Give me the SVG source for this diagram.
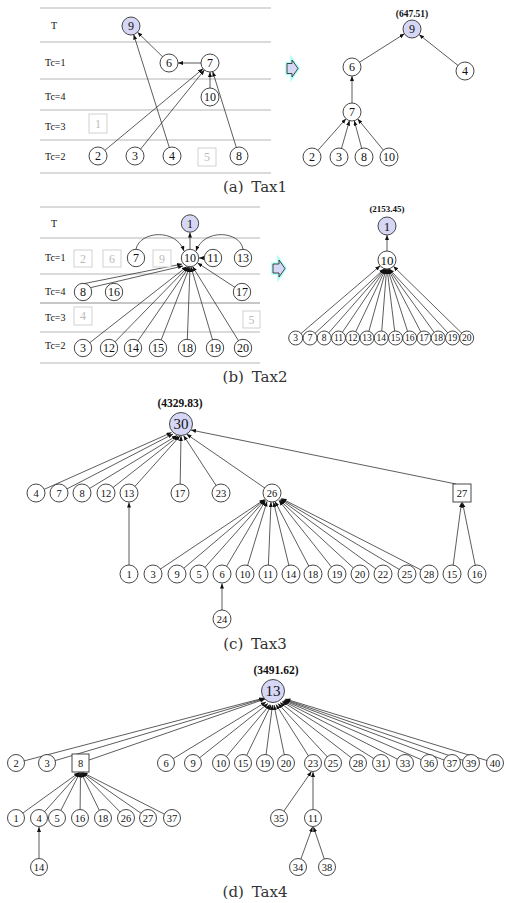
<svg xmlns="http://www.w3.org/2000/svg" width="506" height="903" viewBox="0 0 506 903">
<defs>
<marker id="ah" markerWidth="6" markerHeight="5" refX="5" refY="2" orient="auto" markerUnits="userSpaceOnUse"><path d="M0,0 L5,2 L0,4 z" fill="#111"/></marker>
</defs>
<style>
text{font-family:"Liberation Serif","Times New Roman",serif;fill:#111}
.n circle{fill:#fff;stroke:#333;stroke-width:0.9}
.n rect{fill:#fff;stroke:#333;stroke-width:0.9}
.r circle{fill:#d6d6f5}
.n text,.g text{text-anchor:middle;dominant-baseline:central}
.g rect{fill:#fff;stroke:#ccc;stroke-width:0.9}
.g text{fill:#bbb}
.f12 text{font-size:12px}
.f10 text{font-size:10.5px}
.f9 text{font-size:9.5px}
.big text{font-size:15px}
.mid text{font-size:13px}
.lane{stroke:#b5b5b5;stroke-width:1}
.lbl{font-size:10px}
.val{font-size:9.5px;font-weight:bold;text-anchor:middle}
.cap{font-family:"DejaVu Serif",serif;font-size:15px;fill:#333;text-anchor:middle;word-spacing:3px}
.blk{fill:#d6d6f5;stroke:#333;stroke-width:0.9}
.glow{fill:none;stroke:#6fe;stroke-width:3.5;opacity:0.55}
#edges line,#edges path{stroke:#333;stroke-width:0.8;fill:none;marker-end:url(#ah)}
#edges .gr{stroke:#888;stroke-width:1.4}
</style>

<!-- lanes -->
<g id="lanes">
<line class="lane" x1="40" y1="8" x2="271" y2="8"/>
<line class="lane" x1="40" y1="42" x2="271" y2="42"/>
<line class="lane" x1="40" y1="79" x2="271" y2="79"/>
<line class="lane" x1="40" y1="110" x2="271" y2="110"/>
<line class="lane" x1="40" y1="140" x2="271" y2="140"/>
<line class="lane" x1="40" y1="173" x2="271" y2="173"/>
<line class="lane" x1="40" y1="207" x2="260" y2="207"/>
<line class="lane" x1="40" y1="238" x2="260" y2="238"/>
<line class="lane" x1="40" y1="274" x2="260" y2="274"/>
<line class="lane" x1="40" y1="303" x2="260" y2="303" style="stroke-width:1.5"/>
<line class="lane" x1="40" y1="332" x2="260" y2="332"/>
<line class="lane" x1="40" y1="363" x2="260" y2="363"/>
<text class="lbl" x="51" y="29">T</text>
<text class="lbl" x="45" y="66">Tc=1</text>
<text class="lbl" x="45" y="100">Tc=4</text>
<text class="lbl" x="45" y="130">Tc=3</text>
<text class="lbl" x="45" y="160">Tc=2</text>
<text class="lbl" x="51" y="227">T</text>
<text class="lbl" x="45" y="261">Tc=1</text>
<text class="lbl" x="45" y="295">Tc=4</text>
<text class="lbl" x="45" y="321">Tc=3</text>
<text class="lbl" x="45" y="349">Tc=2</text>
</g>

<g id="arrows">
<path class="glow" d="M287,63.5 L292,63.5 L292,60 L298,68.5 L292,77 L292,73.5 L287,73.5 Z"/>
<path class="blk" d="M287,63.5 L292,63.5 L292,60 L298,68.5 L292,77 L292,73.5 L287,73.5 Z"/>
<path class="glow" d="M273,264 L279,264 L279,260 L285,268.5 L279,277 L279,273 L273,273 Z"/>
<path class="blk" d="M273,264 L279,264 L279,260 L285,268.5 L279,277 L279,273 L273,273 Z"/>
</g>

<g id="values">
<text class="val" x="412" y="17">(647.51)</text>
<text class="val" x="387" y="212" style="font-size:9px">(2153.45)</text>
<text class="val" x="180" y="407" style="font-size:11.5px">(4329.83)</text>
<text class="val" x="276" y="674" style="font-size:11.5px">(3491.62)</text>
</g>

<g id="captions">
<text class="cap" x="255" y="192">(a) Tax1</text>
<text class="cap" x="255" y="382">(b) Tax2</text>
<text class="cap" x="255" y="649">(c) Tax3</text>
<text class="cap" x="255" y="897">(d) Tax4</text>
</g>

<g id="edges">
<!-- Tax1 left -->
<line x1="169" y1="63" x2="137.5" y2="32.3"/>
<line x1="172" y1="156" x2="133.7" y2="34.6"/>
<line class="gr" x1="201" y1="63" x2="178" y2="63"/>
<line x1="98" y1="156" x2="203.1" y2="68.7"/>
<line x1="135" y1="156" x2="204.4" y2="70"/>
<line x1="210" y1="88" x2="210" y2="72"/>
<line x1="239" y1="156" x2="212.7" y2="71.6"/>
<!-- Tax1 right -->
<line x1="352" y1="67" x2="404.4" y2="33.8"/>
<line x1="465" y1="71" x2="419.1" y2="34.6"/>
<line x1="352" y1="103" x2="352" y2="76"/>
<line x1="312" y1="157" x2="346" y2="118.7"/>
<line x1="339" y1="157" x2="349.5" y2="120.6"/>
<line x1="364" y1="157" x2="354.3" y2="120.7"/>
<line x1="389" y1="157" x2="357.7" y2="118.9"/>
<!-- Tax2 left -->
<line x1="190" y1="249" x2="190" y2="232.5"/>
<line x1="204" y1="258" x2="199" y2="258"/>
<path d="M136,249 C140,231 176,228 184,251"/>
<path d="M243,249 C240,231 204,228 196,251"/>
<line x1="82" y1="284" x2="182" y2="264"/>
<line x1="89" y1="288" x2="183" y2="266"/>
<line x1="242" y1="292" x2="197.5" y2="262.9"/>
<line x1="83" y1="348" x2="187" y2="266.5"/>
<line x1="109" y1="348" x2="188" y2="267"/>
<line x1="133" y1="348" x2="189" y2="267"/>
<line x1="158" y1="348" x2="189.5" y2="267.2"/>
<line x1="187" y1="348" x2="190" y2="267.3"/>
<line x1="215" y1="348" x2="191" y2="267"/>
<line x1="243" y1="348" x2="192.5" y2="266.5"/>
<!-- Tax2 right -->
<line x1="387" y1="251" x2="387" y2="235"/>
<line x1="295.7" y1="338" x2="380.2" y2="265.8"/>
<line x1="310" y1="338" x2="384.2" y2="268.8"/>
<line x1="324.2" y1="338" x2="384.6" y2="269"/>
<line x1="338.5" y1="338" x2="385.1" y2="269"/>
<line x1="352.7" y1="338" x2="385.6" y2="269"/>
<line x1="367" y1="338" x2="386.1" y2="269"/>
<line x1="381.2" y1="338" x2="386.6" y2="269"/>
<line x1="395.5" y1="338" x2="387.1" y2="269"/>
<line x1="409.7" y1="338" x2="387.6" y2="269"/>
<line x1="424" y1="338" x2="388.1" y2="269"/>
<line x1="438.2" y1="338" x2="388.6" y2="269"/>
<line x1="452.5" y1="338" x2="389.1" y2="268.8"/>
<line x1="466.7" y1="338" x2="393.4" y2="266.3"/>
<!-- Tax3 -->
<line x1="36" y1="493" x2="171.5" y2="432.5"/>
<line x1="59" y1="493" x2="173" y2="434"/>
<line x1="82" y1="493" x2="177" y2="435.5"/>
<line x1="106" y1="493" x2="178.5" y2="436"/>
<line x1="129" y1="493" x2="180" y2="436"/>
<line x1="180" y1="493" x2="181" y2="436"/>
<line x1="221" y1="493" x2="183.5" y2="435.5"/>
<line x1="272" y1="493" x2="186.5" y2="434.1"/>
<line x1="456" y1="484" x2="191" y2="430"/>
<line x1="129" y1="565" x2="129" y2="502.5"/>
<line x1="222" y1="610" x2="222" y2="583.5"/>
<line x1="153" y1="574" x2="264.5" y2="499.5"/>
<line x1="177" y1="574" x2="264.5" y2="499.8"/>
<line x1="199" y1="574" x2="265" y2="500"/>
<line x1="222" y1="574" x2="265.5" y2="500.5"/>
<line x1="245" y1="574" x2="267" y2="501.5"/>
<line x1="268" y1="574" x2="271" y2="502"/>
<line x1="291" y1="574" x2="273.5" y2="502"/>
<line x1="313" y1="574" x2="275" y2="501.5"/>
<line x1="337" y1="574" x2="279" y2="500.5"/>
<line x1="360" y1="574" x2="279.5" y2="500"/>
<line x1="383" y1="574" x2="280.5" y2="499.5"/>
<line x1="407" y1="574" x2="281" y2="499"/>
<line x1="429" y1="574" x2="281.5" y2="498.5"/>
<line x1="452" y1="574" x2="461.5" y2="502.5"/>
<line x1="477" y1="574" x2="462.5" y2="502.5"/>
<!-- Tax4 -->
<line x1="16" y1="763" x2="264" y2="698"/>
<line x1="47" y1="763" x2="264.5" y2="698.5"/>
<line x1="80.5" y1="763" x2="265" y2="699"/>
<line x1="166" y1="763" x2="266" y2="702"/>
<line x1="193" y1="763" x2="268" y2="703.5"/>
<line x1="221" y1="763" x2="270" y2="704.5"/>
<line x1="243" y1="763" x2="271" y2="705"/>
<line x1="265" y1="763" x2="272.5" y2="705"/>
<line x1="286" y1="763" x2="274" y2="705"/>
<line x1="313" y1="763" x2="276" y2="704.5"/>
<line x1="333" y1="763" x2="278" y2="703.5"/>
<line x1="358" y1="763" x2="280" y2="702.5"/>
<line x1="381" y1="763" x2="282" y2="701.5"/>
<line x1="405" y1="763" x2="283" y2="701"/>
<line x1="429" y1="763" x2="284" y2="700.5"/>
<line x1="452" y1="763" x2="284.5" y2="700"/>
<line x1="471" y1="763" x2="285" y2="699.5"/>
<line x1="495" y1="763" x2="285.5" y2="699"/>
<line x1="16" y1="818" x2="79" y2="772.5"/>
<line x1="39" y1="818" x2="79.5" y2="772.5"/>
<line x1="57" y1="818" x2="80" y2="772.5"/>
<line x1="80" y1="818" x2="80.5" y2="772.5"/>
<line x1="103" y1="818" x2="81" y2="772.5"/>
<line x1="126" y1="818" x2="81.5" y2="772.5"/>
<line x1="148" y1="818" x2="82" y2="772.5"/>
<line x1="172" y1="818" x2="82.5" y2="772.5"/>
<line x1="39" y1="858" x2="39" y2="827"/>
<line x1="279" y1="818" x2="311.5" y2="771.5"/>
<line class="gr" x1="313" y1="809" x2="313" y2="772"/>
<line x1="298" y1="867" x2="312.5" y2="827"/>
<line x1="327" y1="867" x2="313.5" y2="827"/>
</g>

<!-- Tax1 left nodes -->
<g class="f12">
<g id="t1a-9" class="n r"><circle cx="131" cy="26" r="9"/><text x="131" y="26">9</text></g>
<g id="t1a-6" class="n"><circle cx="169" cy="63" r="9"/><text x="169" y="63">6</text></g>
<g id="t1a-7" class="n"><circle cx="210" cy="63" r="9"/><text x="210" y="63">7</text></g>
<g id="t1a-10" class="n"><circle cx="210" cy="97" r="9"/><text x="210" y="97">10</text></g>
<g id="t1a-1" class="g"><rect x="89" y="114" width="18" height="19"/><text x="98" y="123.5">1</text></g>
<g id="t1a-2" class="n"><circle cx="98" cy="156" r="9"/><text x="98" y="156">2</text></g>
<g id="t1a-3" class="n"><circle cx="135" cy="156" r="9"/><text x="135" y="156">3</text></g>
<g id="t1a-4" class="n"><circle cx="172" cy="156" r="9"/><text x="172" y="156">4</text></g>
<g id="t1a-5" class="g"><rect x="198" y="148" width="18" height="18"/><text x="207" y="157">5</text></g>
<g id="t1a-8" class="n"><circle cx="239" cy="156" r="9"/><text x="239" y="156">8</text></g>
</g>

<!-- Tax1 right nodes -->
<g class="f12">
<g id="t1b-9" class="n r"><circle cx="412" cy="29" r="9"/><text x="412" y="29">9</text></g>
<g id="t1b-6" class="n"><circle cx="352" cy="67" r="9"/><text x="352" y="67">6</text></g>
<g id="t1b-4" class="n"><circle cx="465" cy="71" r="9"/><text x="465" y="71">4</text></g>
<g id="t1b-7" class="n"><circle cx="352" cy="112" r="9"/><text x="352" y="112">7</text></g>
<g id="t1b-2" class="n"><circle cx="312" cy="157" r="9"/><text x="312" y="157">2</text></g>
<g id="t1b-3" class="n"><circle cx="339" cy="157" r="9"/><text x="339" y="157">3</text></g>
<g id="t1b-8" class="n"><circle cx="364" cy="157" r="9"/><text x="364" y="157">8</text></g>
<g id="t1b-10" class="n"><circle cx="389" cy="157" r="9"/><text x="389" y="157">10</text></g>
</g>

<!-- Tax2 left nodes -->
<g class="f12">
<g id="t2a-1" class="n r"><circle cx="190" cy="223.5" r="8.7"/><text x="190" y="223.5">1</text></g>
<g id="t2a-2" class="g"><rect x="74" y="250" width="18" height="17"/><text x="83" y="258.5">2</text></g>
<g id="t2a-6" class="g"><rect x="103" y="250" width="18" height="17"/><text x="112" y="258.5">6</text></g>
<g id="t2a-7" class="n"><circle cx="136" cy="258" r="8.7"/><text x="136" y="258">7</text></g>
<g id="t2a-9" class="g"><rect x="153" y="250" width="18" height="17"/><text x="162" y="258.5">9</text></g>
<g id="t2a-10" class="n"><circle cx="190" cy="258" r="8.7"/><text x="190" y="258">10</text></g>
<g id="t2a-11" class="n"><circle cx="213" cy="258" r="8.7"/><text x="213" y="258">11</text></g>
<g id="t2a-13" class="n"><circle cx="243" cy="258" r="8.7"/><text x="243" y="258">13</text></g>
<g id="t2a-8" class="n"><circle cx="83" cy="292" r="8.7"/><text x="83" y="292">8</text></g>
<g id="t2a-16" class="n"><circle cx="114" cy="292" r="8.7"/><text x="114" y="292">16</text></g>
<g id="t2a-17" class="n"><circle cx="242" cy="292" r="8.7"/><text x="242" y="292">17</text></g>
<g id="t2a-4" class="g"><rect x="74" y="307" width="18" height="18"/><text x="83" y="316">4</text></g>
<g id="t2a-5" class="g"><rect x="243" y="311" width="17" height="17"/><text x="251.5" y="319.5">5</text></g>
<g id="t2a-3" class="n"><circle cx="83" cy="348" r="8.7"/><text x="83" y="348">3</text></g>
<g id="t2a-12" class="n"><circle cx="109" cy="348" r="8.7"/><text x="109" y="348">12</text></g>
<g id="t2a-14" class="n"><circle cx="133" cy="348" r="8.7"/><text x="133" y="348">14</text></g>
<g id="t2a-15" class="n"><circle cx="158" cy="348" r="8.7"/><text x="158" y="348">15</text></g>
<g id="t2a-18" class="n"><circle cx="187" cy="348" r="8.7"/><text x="187" y="348">18</text></g>
<g id="t2a-19" class="n"><circle cx="215" cy="348" r="8.7"/><text x="215" y="348">19</text></g>
<g id="t2a-20" class="n"><circle cx="243" cy="348" r="8.7"/><text x="243" y="348">20</text></g>
</g>

<!-- Tax2 right nodes -->
<g class="mid">
<g id="t2b-1" class="n r"><circle cx="387" cy="226" r="9"/><text x="387" y="226">1</text></g>
<g id="t2b-10" class="n"><circle cx="387" cy="260" r="9"/><text x="387" y="260">10</text></g>
</g>
<g class="f9">
<g id="t2b-3" class="n"><circle cx="295.7" cy="338" r="7"/><text x="295.7" y="338">3</text></g>
<g id="t2b-7" class="n"><circle cx="310" cy="338" r="7"/><text x="310" y="338">7</text></g>
<g id="t2b-8" class="n"><circle cx="324.2" cy="338" r="7"/><text x="324.2" y="338">8</text></g>
<g id="t2b-11" class="n"><circle cx="338.5" cy="338" r="7"/><text x="338.5" y="338">11</text></g>
<g id="t2b-12" class="n"><circle cx="352.7" cy="338" r="7"/><text x="352.7" y="338">12</text></g>
<g id="t2b-13" class="n"><circle cx="367" cy="338" r="7"/><text x="367" y="338">13</text></g>
<g id="t2b-14" class="n"><circle cx="381.2" cy="338" r="7"/><text x="381.2" y="338">14</text></g>
<g id="t2b-15" class="n"><circle cx="395.5" cy="338" r="7"/><text x="395.5" y="338">15</text></g>
<g id="t2b-16" class="n"><circle cx="409.7" cy="338" r="7"/><text x="409.7" y="338">16</text></g>
<g id="t2b-17" class="n"><circle cx="424" cy="338" r="7"/><text x="424" y="338">17</text></g>
<g id="t2b-18" class="n"><circle cx="438.2" cy="338" r="7"/><text x="438.2" y="338">18</text></g>
<g id="t2b-19" class="n"><circle cx="452.5" cy="338" r="7"/><text x="452.5" y="338">19</text></g>
<g id="t2b-20" class="n"><circle cx="466.7" cy="338" r="7"/><text x="466.7" y="338">20</text></g>
</g>

<!-- Tax3 nodes -->
<g class="big">
<g id="t3-30" class="n r"><circle cx="181" cy="424" r="11.5"/><text x="181" y="424">30</text></g>
</g>
<g class="f10">
<g id="t3-4" class="n"><circle cx="36" cy="493" r="9"/><text x="36" y="493">4</text></g>
<g id="t3-7" class="n"><circle cx="59" cy="493" r="9"/><text x="59" y="493">7</text></g>
<g id="t3-8" class="n"><circle cx="82" cy="493" r="9"/><text x="82" y="493">8</text></g>
<g id="t3-12" class="n"><circle cx="106" cy="493" r="9"/><text x="106" y="493">12</text></g>
<g id="t3-13" class="n"><circle cx="129" cy="493" r="9"/><text x="129" y="493">13</text></g>
<g id="t3-17" class="n"><circle cx="180" cy="493" r="9"/><text x="180" y="493">17</text></g>
<g id="t3-23" class="n"><circle cx="221" cy="493" r="9"/><text x="221" y="493">23</text></g>
<g id="t3-26" class="n"><circle cx="272" cy="493" r="9"/><text x="272" y="493">26</text></g>
<g id="t3-27" class="n"><rect x="453" y="484" width="18" height="18"/><text x="462" y="493">27</text></g>
<g id="t3-1" class="n"><circle cx="129" cy="574" r="9"/><text x="129" y="574">1</text></g>
<g id="t3-3" class="n"><circle cx="153" cy="574" r="9"/><text x="153" y="574">3</text></g>
<g id="t3-9" class="n"><circle cx="177" cy="574" r="9"/><text x="177" y="574">9</text></g>
<g id="t3-5" class="n"><circle cx="199" cy="574" r="9"/><text x="199" y="574">5</text></g>
<g id="t3-6" class="n"><circle cx="222" cy="574" r="9"/><text x="222" y="574">6</text></g>
<g id="t3-10" class="n"><circle cx="245" cy="574" r="9"/><text x="245" y="574">10</text></g>
<g id="t3-11" class="n"><circle cx="268" cy="574" r="9"/><text x="268" y="574">11</text></g>
<g id="t3-14" class="n"><circle cx="291" cy="574" r="9"/><text x="291" y="574">14</text></g>
<g id="t3-18" class="n"><circle cx="313" cy="574" r="9"/><text x="313" y="574">18</text></g>
<g id="t3-19" class="n"><circle cx="337" cy="574" r="9"/><text x="337" y="574">19</text></g>
<g id="t3-20" class="n"><circle cx="360" cy="574" r="9"/><text x="360" y="574">20</text></g>
<g id="t3-22" class="n"><circle cx="383" cy="574" r="9"/><text x="383" y="574">22</text></g>
<g id="t3-25" class="n"><circle cx="407" cy="574" r="9"/><text x="407" y="574">25</text></g>
<g id="t3-28" class="n"><circle cx="429" cy="574" r="9"/><text x="429" y="574">28</text></g>
<g id="t3-15" class="n"><circle cx="452" cy="574" r="9"/><text x="452" y="574">15</text></g>
<g id="t3-16" class="n"><circle cx="477" cy="574" r="9"/><text x="477" y="574">16</text></g>
<g id="t3-24" class="n"><circle cx="222" cy="619" r="9"/><text x="222" y="619">24</text></g>
</g>

<!-- Tax4 nodes -->
<g class="big">
<g id="t4-13" class="n r"><circle cx="273" cy="691" r="11.5"/><text x="273" y="691">13</text></g>
</g>
<g class="f10">
<g id="t4-2" class="n"><circle cx="16" cy="763" r="8.5"/><text x="16" y="763">2</text></g>
<g id="t4-3" class="n"><circle cx="47" cy="763" r="8.5"/><text x="47" y="763">3</text></g>
<g id="t4-8" class="n"><rect x="72" y="754" width="17" height="18"/><text x="80.5" y="763">8</text></g>
<g id="t4-6" class="n"><circle cx="166" cy="763" r="8.5"/><text x="166" y="763">6</text></g>
<g id="t4-9" class="n"><circle cx="193" cy="763" r="8.5"/><text x="193" y="763">9</text></g>
<g id="t4-10" class="n"><circle cx="221" cy="763" r="8.5"/><text x="221" y="763">10</text></g>
<g id="t4-15" class="n"><circle cx="243" cy="763" r="8.5"/><text x="243" y="763">15</text></g>
<g id="t4-19" class="n"><circle cx="265" cy="763" r="8.5"/><text x="265" y="763">19</text></g>
<g id="t4-20" class="n"><circle cx="286" cy="763" r="8.5"/><text x="286" y="763">20</text></g>
<g id="t4-23" class="n"><circle cx="313" cy="763" r="8.5"/><text x="313" y="763">23</text></g>
<g id="t4-25" class="n"><circle cx="333" cy="763" r="8.5"/><text x="333" y="763">25</text></g>
<g id="t4-28" class="n"><circle cx="358" cy="763" r="8.5"/><text x="358" y="763">28</text></g>
<g id="t4-31" class="n"><circle cx="381" cy="763" r="8.5"/><text x="381" y="763">31</text></g>
<g id="t4-33" class="n"><circle cx="405" cy="763" r="8.5"/><text x="405" y="763">33</text></g>
<g id="t4-36" class="n"><circle cx="429" cy="763" r="8.5"/><text x="429" y="763">36</text></g>
<g id="t4-37" class="n"><circle cx="452" cy="763" r="8.5"/><text x="452" y="763">37</text></g>
<g id="t4-39" class="n"><circle cx="471" cy="763" r="8.5"/><text x="471" y="763">39</text></g>
<g id="t4-40" class="n"><circle cx="495" cy="763" r="8.5"/><text x="495" y="763">40</text></g>
<g id="t4-1" class="n"><circle cx="16" cy="818" r="8.5"/><text x="16" y="818">1</text></g>
<g id="t4-4" class="n"><circle cx="39" cy="818" r="8.5"/><text x="39" y="818">4</text></g>
<g id="t4-5" class="n"><circle cx="57" cy="818" r="8.5"/><text x="57" y="818">5</text></g>
<g id="t4-16" class="n"><circle cx="80" cy="818" r="8.5"/><text x="80" y="818">16</text></g>
<g id="t4-18" class="n"><circle cx="103" cy="818" r="8.5"/><text x="103" y="818">18</text></g>
<g id="t4-26" class="n"><circle cx="126" cy="818" r="8.5"/><text x="126" y="818">26</text></g>
<g id="t4-27" class="n"><circle cx="148" cy="818" r="8.5"/><text x="148" y="818">27</text></g>
<g id="t4-37b" class="n"><circle cx="172" cy="818" r="8.5"/><text x="172" y="818">37</text></g>
<g id="t4-35" class="n"><circle cx="279" cy="818" r="8.5"/><text x="279" y="818">35</text></g>
<g id="t4-11" class="n"><circle cx="313" cy="818" r="8.5"/><text x="313" y="818">11</text></g>
<g id="t4-14" class="n"><circle cx="39" cy="867" r="8.5"/><text x="39" y="867">14</text></g>
<g id="t4-34" class="n"><circle cx="298" cy="867" r="8.5"/><text x="298" y="867">34</text></g>
<g id="t4-38" class="n"><circle cx="327" cy="867" r="8.5"/><text x="327" y="867">38</text></g>
</g>
</svg>
